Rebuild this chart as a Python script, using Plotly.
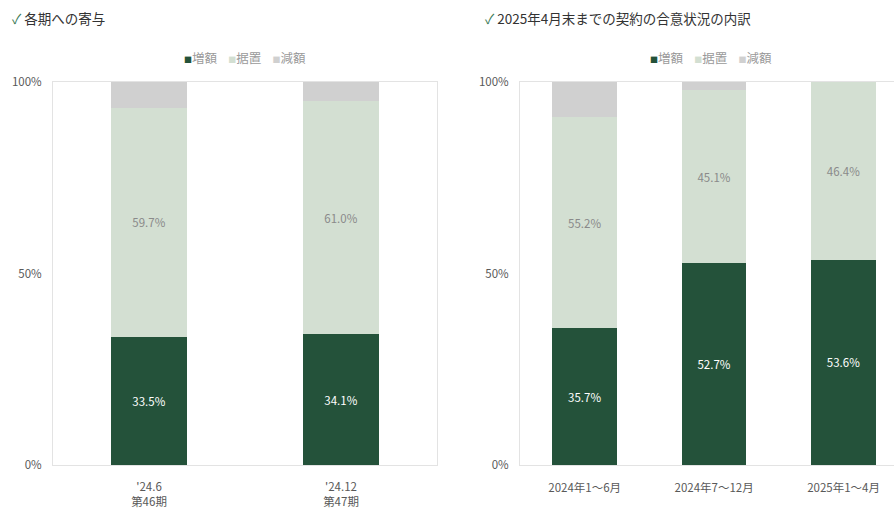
import plotly.graph_objects as go

# ---- data ----
series_names = ["増額", "据置", "減額"]
left_categories = ["'24.6<br>第46期", "'24.12<br>第47期"]
left_increase = [0.335, 0.341]
left_flat = [0.597, 0.610]
left_decrease = [0.068, 0.049]

right_categories = ["2024年1～6月", "2024年7～12月", "2025年1～4月"]
right_increase = [0.357, 0.527, 0.536]
right_flat = [0.552, 0.451, 0.464]
right_decrease = [0.091, 0.022, 0.0]

left_title = "各期への寄与"
right_title = "2025年4月末までの契約の合意状況の内訳"

colors = ["#24523A", "#D3DFD2", "#D0D0D0"]
label_colors = ["#FFFFFF", "#8A8A8A", "#8A8A8A"]
FONT = "Noto Sans CJK JP"

fig = go.Figure()

def add_group(cats, vals_list, xa, ya, width):
    for i, (name, vals) in enumerate(zip(series_names, vals_list)):
        show_text = i < 2
        fig.add_trace(go.Bar(
            x=cats, y=vals, name=name, xaxis=xa, yaxis=ya,
            marker=dict(color=colors[i], line=dict(width=0)),
            width=width,
            texttemplate="%{y:.1%}" if show_text else None,
            textposition="inside" if show_text else "none",
            insidetextanchor="middle",
            textangle=0,
            textfont=dict(color=label_colors[i], size=11.5, family=FONT),
            showlegend=False,
            hoverinfo="x+y+name",
        ))

add_group(left_categories, [left_increase, left_flat, left_decrease], "x", "y", 0.4)
add_group(right_categories, [right_increase, right_flat, right_decrease], "x2", "y2", 0.5)

W, H = 894, 508
TOP, BOT = 82, 465
line_col = "#E3E3E3"
tick_col = "#595959"

def py(pix):
    """pixel row -> paper y (paper spans the plot area)"""
    return (BOT - pix) / (BOT - TOP)

axis_common_y = dict(range=[0, 1], tickvals=[0, 0.5, 1], tickformat=".0%",
                     showgrid=False, zeroline=False, showline=True, linecolor=line_col,
                     linewidth=1, ticks="", tickfont=dict(size=11.5, color=tick_col, family=FONT),
                     ticklabelstandoff=8, fixedrange=True)

fig.update_layout(
    width=W, height=H,
    margin=dict(l=0, r=0, t=TOP, b=H - BOT),
    paper_bgcolor="white", plot_bgcolor="white",
    barmode="stack",
    font=dict(family=FONT, color=tick_col),
    xaxis=dict(domain=[53 / W, 437 / W], range=[-0.5, 1.5], showline=True, mirror=True,
               linecolor=line_col, showgrid=False, ticks="",
               tickfont=dict(size=11.5, color=tick_col, family=FONT), ticklabelstandoff=11),
    yaxis=dict(anchor="x", mirror=True, **axis_common_y),
    xaxis2=dict(domain=[520 / W, 1.0], range=[-0.5, 2.39], showline=True, mirror=True,
                linecolor=line_col, showgrid=False, ticks="",
                tickfont=dict(size=11.5, color=tick_col, family=FONT), ticklabelstandoff=12),
    yaxis2=dict(anchor="x2", **axis_common_y),
    showlegend=False,
)

# titles
check = "<span style='color:#3C7A55'>✓</span> "
fig.add_annotation(text=check + left_title, x=10 / W, y=py(18), xref="paper", yref="paper",
                   xanchor="left", yanchor="middle", showarrow=False,
                   font=dict(size=13.5, color="#333333", family=FONT))
fig.add_annotation(text=check + right_title, x=483 / W, y=py(18), xref="paper", yref="paper",
                   xanchor="left", yanchor="middle", showarrow=False,
                   font=dict(size=13.5, color="#333333", family=FONT))

# legends (as text)
def legend_text():
    parts = []
    for name, c in zip(series_names, colors):
        parts.append(f"<span style='color:{c};font-size:8px'>■</span>{name}")
    return "    ".join(parts)

fig.add_annotation(text=legend_text(), x=(53 + 437) / 2 / W, y=py(57), xref="paper", yref="paper",
                   xanchor="center", yanchor="middle", showarrow=False,
                   font=dict(size=12.5, color="#9A9A9A", family=FONT))
fig.add_annotation(text=legend_text(), x=711 / W, y=py(57), xref="paper", yref="paper",
                   xanchor="center", yanchor="middle", showarrow=False,
                   font=dict(size=12.5, color="#9A9A9A", family=FONT))

fig.write_html("out.html")
